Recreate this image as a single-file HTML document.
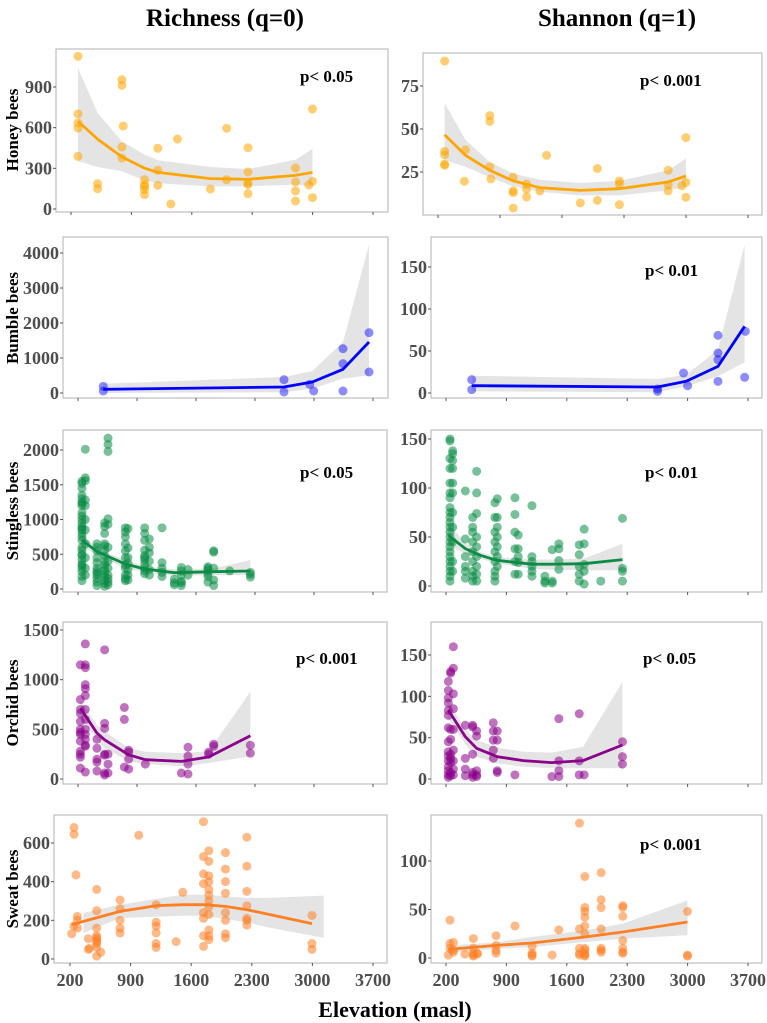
<!DOCTYPE html>
<html><head><meta charset="utf-8">
<style>
html,body{margin:0;padding:0;background:#fff;}
svg{display:block;font-family:"Liberation Serif",serif;}
</style></head>
<body>
<svg id="chart" width="767" height="1023" viewBox="0 0 767 1023">
<text x="225" y="26" text-anchor="middle" font-size="25" font-weight="bold">Richness (q=0)</text>
<text x="617" y="26" text-anchor="middle" font-size="25" font-weight="bold">Shannon (q=1)</text>
<text x="395" y="1017" text-anchor="middle" font-size="22" font-weight="bold">Elevation (masl)</text>
<text transform="translate(18,130) rotate(-90)" text-anchor="middle" font-size="17" font-weight="bold">Honey bees</text>
<text transform="translate(18,318) rotate(-90)" text-anchor="middle" font-size="17" font-weight="bold">Bumble bees</text>
<text transform="translate(18,511) rotate(-90)" text-anchor="middle" font-size="17" font-weight="bold">Stingless bees</text>
<text transform="translate(18,703) rotate(-90)" text-anchor="middle" font-size="17" font-weight="bold">Orchid bees</text>
<text transform="translate(18,889) rotate(-90)" text-anchor="middle" font-size="17" font-weight="bold">Sweat bees</text>
</svg>
<script>
// ---------- shared ----------
const xTickLabels = [200, 900, 1600, 2300, 3000, 3700];

// ---------- Honey richness ----------
const honeyRichElev = [281,281,281,281,281,508,508,790,790,805,790,790,1052,1052,1052,1052,1052,1206,1206,1206,1357,1434,1815,2004,2004,2251,2251,2251,2251,2251,2802,2802,2802,2802,2956,2999,2999,2999];
const honeyRichVal  = [1126,701,634,597,389,187,150,954,912,612,457,376,216,167,143,106,180,448,285,175,37,516,148,595,216,452,273,192,180,113,302,199,133,59,177,738,204,84];
const honeyRichFitX = [281,508,790,1052,1206,1815,2251,2802,2999];
const honeyRichFit  = [647,516,384,302,270,224,219,248,270];
const honeyRichHi   = [1040,708,499,401,360,310,295,364,443];
const honeyRichLo   = [352,310,278,211,190,167,167,180,167];

// ---------- Bumble richness ----------
const bumbleRichElev = [500,500,2644,2644,2949,2996,3344,3344,3344,3653,3653];
const bumbleRichVal  = [190,57,381,29,248,57,1267,838,57,1724,600];
const bumbleRichFitX = [500,2644,2980,3344,3653];
const bumbleRichFit  = [105,171,314,676,1457];
const bumbleRichHi   = [267,457,629,1457,4238];
const bumbleRichLo   = [0,20,124,410,505];

// ---------- Honey shannon ----------
const honeyShanElev = [275,275,275,275,275,498,509,785,785,785,797,1049,1049,1049,1049,1200,1200,1200,1350,1426,1807,1999,1999,2248,2248,2248,2799,2799,2799,2954,2999,2999,2999];
const honeyShanVal  = [89.5,37,35,29,29.5,19.6,37.8,57.8,54.5,28,21,22,14,13,4,18,15,10.5,14,34.7,7,27,8.5,19.8,18,6,26,17.6,14,17,19,45,10.3];
const honeyShanFitX = [275,509,785,1049,1350,1807,2248,2799,2999];
const honeyShanFit  = [46.7,34.7,26,19.8,15.9,14.3,15.3,19.2,22.7];
const honeyShanHi   = [65,43.8,30.8,24,20.5,18.6,19.8,26,32.8];
const honeyShanLo   = [31.8,28,22,16.6,13.5,11.4,11.4,14.3,16.3];

// ---------- Bumble shannon ----------
const bumbleShanElev = [498,498,2652,2652,2953,3000,3352,3352,3352,3352,3669,3661];
const bumbleShanVal  = [15.9,4,4.8,2,23.8,8.7,68.6,47.6,39.7,13.9,73.4,18.7];
const bumbleShanFitX = [498,2652,2984,3352,3661];
const bumbleShanFit  = [8.7,7.1,13.9,31.7,79.4];
const bumbleShanHi   = [20.6,16.7,21.8,51.6,176.6];
const bumbleShanLo   = [2,0.8,7.9,19.8,36.5];

// ---------- Stingless richness (columns) ----------
const stinglessRichColElev = [247,287,425,516,556,762,793,991,1046,1197,1343,1426,1505,1742,1810,2000,2245];
const stinglessRichColVals = [
 [120,180,250,300,340,360,420,480,500,560,600,700,750,800,850,870,900,950,1000,1050,1100,1200,1230,1250,1300,1350,1450,1520,1550],
 [2010,1600,1560,1280,1200,1000,850,650,450,300,200],
 [50,100,150,200,230,260,300,380,450,550,600,650],
 [40,80,120,170,210,260,300,350,400,480,560,620,650,800,900,950],
 [2170,2080,1980,1010,930,600,400,300,200,150,100,60],
 [120,150,200,300,350,450,550,650,750,820,880],
 [130,200,280,370,450,590,870],
 [220,260,300,360,420,450,480,560,700,800,880],
 [200,280,400,520,600,720],
 [180,240,300,380,880],
 [60,90,140],
 [50,90,110,200,260,310],
 [200,280],
 [100,180,220,270,300,320],
 [50,130,300,530,550],
 [260],
 [170,210,240]];
const stinglessRichFitX = [247,425,762,991,1343,1810,2245];
const stinglessRichFit  = [705,537,360,288,235,249,259];
const stinglessRichHi   = [800,580,417,330,283,297,417];
const stinglessRichLo   = [609,490,297,245,187,201,201];

// ---------- Orchid richness ----------
const orchidRichColElev = [228,287,425,516,556,750,801,999,1426,1505,1750,1810,2245];
const orchidRichColVals = [
 [1150,800,700,660,580,500,470,450,380,280,250,220,110],
 [1360,1150,1120,950,910,840,700,600,500,450,400,340,330,70],
 [400,310,200,170,80],
 [1300,560,510,250,240,60,40],
 [250,150,60],
 [720,600,120],
 [290,270,200,100],
 [150],
 [60],
 [320,230,150,50],
 [270,250],
 [350,330],
 [340,260]];
const orchidRichFitX = [228,425,516,801,999,1426,1750,2245];
const orchidRichFit  = [713,462,395,244,194,177,221,435];
const orchidRichHi   = [797,540,479,311,275,261,278,880];
const orchidRichLo   = [629,390,311,177,150,127,161,228];

// ---------- Stingless shannon ----------
const stinglessShanColElev = [246,277,424,509,555,767,794,999,1037,1196,1346,1431,1508,1744,1801,1994,2245];
const stinglessShanColVals = [
 [150,148,130,120,105,95,90,80,75,70,65,60,55,50,45,40,35,30,25,20,15,10,5],
 [138,135,128,120,105,95,75,60,45,25,15],
 [97,48,30,20,15,8],
 [70,60,55,45,35,25,15,10,5],
 [117,95,74,50,40,30,20,12,5],
 [85,70,55,45,35,25,15,10,5],
 [89,70,60,50,40,30,20],
 [90,73,55,38,25,12],
 [52,38,30,24,12],
 [82,30,25,20,15,10],
 [10,5,3],
 [37,5,3],
 [43,38,26,17],
 [42,32,20,12,5],
 [58,43,22,15,2],
 [5],
 [69,18,15,5]];
const stinglessShanFitX = [227,424,594,787,1196,1443,1801,2245];
const stinglessShanFit  = [51.8,38.2,31.4,26.2,22.2,22.2,22.8,26.9];
const stinglessShanHi   = [63.8,44,34.8,29.5,26.9,27,28,43.3];
const stinglessShanLo   = [41.6,33,28,23,17.7,16.5,16,16];

// ---------- Orchid shannon ----------
const orchidShanColElev = [227,254,285,424,509,555,748,794,999,1427,1508,1744,1801,2245];
const orchidShanColVals = [
 [118,107,98,92,83,77,62,45,33,28,22,15,10,5,2],
 [130,128,60,48,30,25,20,8,4],
 [160,134,103,85,60,35,22,12,5],
 [65,25,12,4],
 [65,63,30,8,5,2],
 [58,52,10,5,3],
 [68,58,47,35,25],
 [58,47,10,8],
 [5],
 [3],
 [73,22,10,3],
 [79,22,5],
 [5],
 [45,27,18]];
const orchidShanFitX = [227,424,555,794,1095,1427,1790,2245];
const orchidShanFit  = [83.5,51.2,37.1,27,22.2,19.8,22.2,41.1];
const orchidShanHi   = [93.5,60,47.2,38,33,31.9,39.1,117.7];
const orchidShanLo   = [73.4,42,27,19,14.9,12.9,12.9,12.9];

// ---------- Sweat richness ----------
const sweatRichColElev = [219,246,269,285,412,424,508,555,778,994,1195,1426,1503,1742,1804,1996,2243,2995];
const sweatRichColVals = [
 [130],[680,645,170],[435],[220,200,160],[50,105],[55],
 [360,250,160,120,110,100,90,80,60,15],[35],[305,260,200,160,135],[640],
 [280,190,170,135,80,60],[90],[345],[710,530,440,390,240,210,120,65],
 [560,505,430,400,360,330,300,270,230,150,120,100],[550,465,400,340,240,200,130,110],
 [630,480,350,275,210,200,175],[225,80,50]];
const sweatRichFitX = [219,778,1202,1503,1742,1996,2243,2995];
const sweatRichFit  = [178,246,276,281,281,272,255,183];
const sweatRichBandX = [354,778,1503,1742,2243,2474,3130];
const sweatRichHi   = [238,281,333,333,316,316,328];
const sweatRichLo   = [134,212,224,224,190,165,109];

// ---------- Sweat shannon ----------
const sweatShanColElev = [227,246,285,420,517,563,780,1000,1198,1430,1507,1747,1809,1998,2249,2999];
const sweatShanColVals = [
 [3],[39,15,10],[16,8,6],[4],[20,10,5,3,2],[5,4],[23,13,8,5],[33],[12,5,3,2],[3],[29],
 [139,30,10,5,3],[84,52,48,42,33,25,10,8,5,3,2],[88,60,52,30,10,8,6],[54,52,43,18,10,6,5],[48,3,2]];
const sweatShanFitX = [227,780,1198,1809,2249,2999];
const sweatShanFit  = [8.9,13,15.5,21.6,26.8,37.1];
const sweatShanHi   = [13,16,21.6,28.5,35.4,59.4];
const sweatShanLo   = [5.2,9.5,11.3,16.5,20,23.4];

function flatten(elevs, cols){ const e=[],v=[]; elevs.forEach((x,i)=>cols[i].forEach(y=>{e.push(x);v.push(y);})); return [e,v]; }

const NS='http://www.w3.org/2000/svg';
const svg=document.getElementById('chart');
function mk(tag, attrs, parent){ const el=document.createElementNS(NS,tag); for(const k in attrs) el.setAttribute(k,attrs[k]); (parent||svg).appendChild(el); return el; }

function panel(o){
  const g=mk('g',{});
  
  
  const xs=e=>o.x200+(e-200)*(o.x3700-o.x200)/3500;
  const ys=v=>o.y0-(v)*(o.y0-o.yrefPx)/o.yref;
  const frame=mk('rect',{x:o.l,y:o.t,width:o.r-o.l,height:o.b-o.t,fill:'#fff',stroke:'#bdbdbd','stroke-width':1.2},g);
  
  
  o.yticks.forEach(t=>{
    const y=ys(t);
    const tk=mk('line',{x1:o.l-3,x2:o.l,y1:y,y2:y,stroke:'#555','stroke-width':1},g);
    
    
    const tl=mk('text',{x:o.l-4,y:y+6,'text-anchor':'end','font-size':18,'font-weight':'bold',fill:'#4d4d4d'},g);
    tl.textContent=t;
    
    
  });
  xTickLabels.forEach(t=>{
    const x=xs(t);
    const tk=mk('line',{x1:x,x2:x,y1:o.b,y2:o.b+3,stroke:'#555','stroke-width':1},g);
    
    
    if(o.xlabels){
      const tl=mk('text',{x:x,y:o.b+23,'text-anchor':'middle','font-size':18,'font-weight':'bold',fill:'#4d4d4d'},g);
      tl.textContent=t;
      
      
    }
  });
  const bx=o.bandX||o.fitX;
  let d='';
  bx.forEach((e,i)=>{d+=(i?'L':'M')+xs(e).toFixed(1)+','+ys(o.hi[i]).toFixed(1);});
  for(let i=bx.length-1;i>=0;i--) d+='L'+xs(bx[i]).toFixed(1)+','+ys(o.lo[i]).toFixed(1);
  const band=mk('path',{d:d+'Z',fill:'#d9d9d9','fill-opacity':0.7},g);
  
  
  o.ev.forEach((e,i)=>{
    const c=mk('circle',{cx:xs(e),cy:ys(o.vv[i]),r:4.5,fill:o.pt,'fill-opacity':o.alpha||0.55},g);
    
    
  });
  let ld='';
  o.fitX.forEach((e,i)=>{ld+=(i?'L':'M')+xs(e).toFixed(1)+','+ys(o.fit[i]).toFixed(1);});
  const ln=mk('path',{d:ld,fill:'none',stroke:o.line,'stroke-width':2.8,'stroke-linejoin':'round'},g);
  
  
  if(o.p){
    const pt=mk('text',{x:o.px,y:o.py,'font-size':17,'font-weight':'bold',fill:'#000'},g);
    pt.textContent=o.p;
    
    
  }
}

const HON='#FFA500', BUM='#0000FF', STI='#0a8c45', ORC='#8B008B', SWE='#FF7F24';
panel({name:'honey-richness-panel',l:56,t:49,r:388,b:212,y0:209,yref:900,yrefPx:87,x200:71,x3700:373,yticks:[0,300,600,900],
  ev:honeyRichElev,vv:honeyRichVal,fitX:honeyRichFitX,fit:honeyRichFit,hi:honeyRichHi,lo:honeyRichLo,pt:HON,line:HON,p:'p< 0.05',px:300,py:82});
panel({name:'bumble-richness-panel',l:63,t:237,r:388,b:398,y0:393,yref:4000,yrefPx:253,x200:78,x3700:373,yticks:[0,1000,2000,3000,4000],
  ev:bumbleRichElev,vv:bumbleRichVal,fitX:bumbleRichFitX,fit:bumbleRichFit,hi:bumbleRichHi,lo:bumbleRichLo,pt:BUM,line:BUM,alpha:0.45});
panel({name:'honey-shannon-panel',l:423,t:53,r:762,b:215,y0:215,yref:75,yrefPx:86,x200:438,x3700:748,yticks:[25,50,75],
  ev:honeyShanElev,vv:honeyShanVal,fitX:honeyShanFitX,fit:honeyShanFit,hi:honeyShanHi,lo:honeyShanLo,pt:HON,line:HON,p:'p< 0.001',px:640,py:86});
panel({name:'bumble-shannon-panel',l:431,t:237,r:762,b:398,y0:393,yref:150,yrefPx:267,x200:446,x3700:748,yticks:[0,50,100,150],
  ev:bumbleShanElev,vv:bumbleShanVal,fitX:bumbleShanFitX,fit:bumbleShanFit,hi:bumbleShanHi,lo:bumbleShanLo,pt:BUM,line:BUM,alpha:0.45,p:'p< 0.01',px:645,py:276});
let f=flatten(stinglessRichColElev,stinglessRichColVals);
panel({name:'stingless-richness-panel',l:63,t:430,r:387,b:592,y0:589,yref:2000,yrefPx:450,x200:78,x3700:373,yticks:[0,500,1000,1500,2000],
  ev:f[0],vv:f[1],fitX:stinglessRichFitX,fit:stinglessRichFit,hi:stinglessRichHi,lo:stinglessRichLo,pt:STI,line:STI,p:'p< 0.05',px:300,py:478});
f=flatten(orchidRichColElev,orchidRichColVals);
panel({name:'orchid-richness-panel',l:63,t:622,r:387,b:784,y0:779,yref:1500,yrefPx:630,x200:78,x3700:373,yticks:[0,500,1000,1500],
  ev:f[0],vv:f[1],fitX:orchidRichFitX,fit:orchidRichFit,hi:orchidRichHi,lo:orchidRichLo,pt:ORC,line:ORC,p:'p< 0.001',px:296,py:664});
f=flatten(stinglessShanColElev,stinglessShanColVals);
panel({name:'stingless-shannon-panel',l:431,t:430,r:762,b:592,y0:586,yref:150,yrefPx:439,x200:446,x3700:748,yticks:[0,50,100,150],
  ev:f[0],vv:f[1],fitX:stinglessShanFitX,fit:stinglessShanFit,hi:stinglessShanHi,lo:stinglessShanLo,pt:STI,line:STI,p:'p< 0.01',px:645,py:478});
f=flatten(orchidShanColElev,orchidShanColVals);
panel({name:'orchid-shannon-panel',l:431,t:622,r:762,b:784,y0:779,yref:150,yrefPx:655,x200:446,x3700:748,yticks:[0,50,100,150],
  ev:f[0],vv:f[1],fitX:orchidShanFitX,fit:orchidShanFit,hi:orchidShanHi,lo:orchidShanLo,pt:ORC,line:ORC,p:'p< 0.05',px:643,py:664});
f=flatten(sweatRichColElev,sweatRichColVals);
panel({name:'sweat-richness-panel',l:54,t:815,r:387,b:963,y0:959,yref:600,yrefPx:843,x200:70,x3700:373,yticks:[0,200,400,600],xlabels:true,
  ev:f[0],vv:f[1],fitX:sweatRichFitX,fit:sweatRichFit,bandX:sweatRichBandX,hi:sweatRichHi,lo:sweatRichLo,pt:SWE,line:SWE});
f=flatten(sweatShanColElev,sweatShanColVals);
panel({name:'sweat-shannon-panel',l:431,t:815,r:762,b:963,y0:958,yref:100,yrefPx:861,x200:446,x3700:748,yticks:[0,50,100],xlabels:true,
  ev:f[0],vv:f[1],fitX:sweatShanFitX,fit:sweatShanFit,hi:sweatShanHi,lo:sweatShanLo,pt:SWE,line:SWE,p:'p< 0.001',px:640,py:850});
</script>
</body></html>
